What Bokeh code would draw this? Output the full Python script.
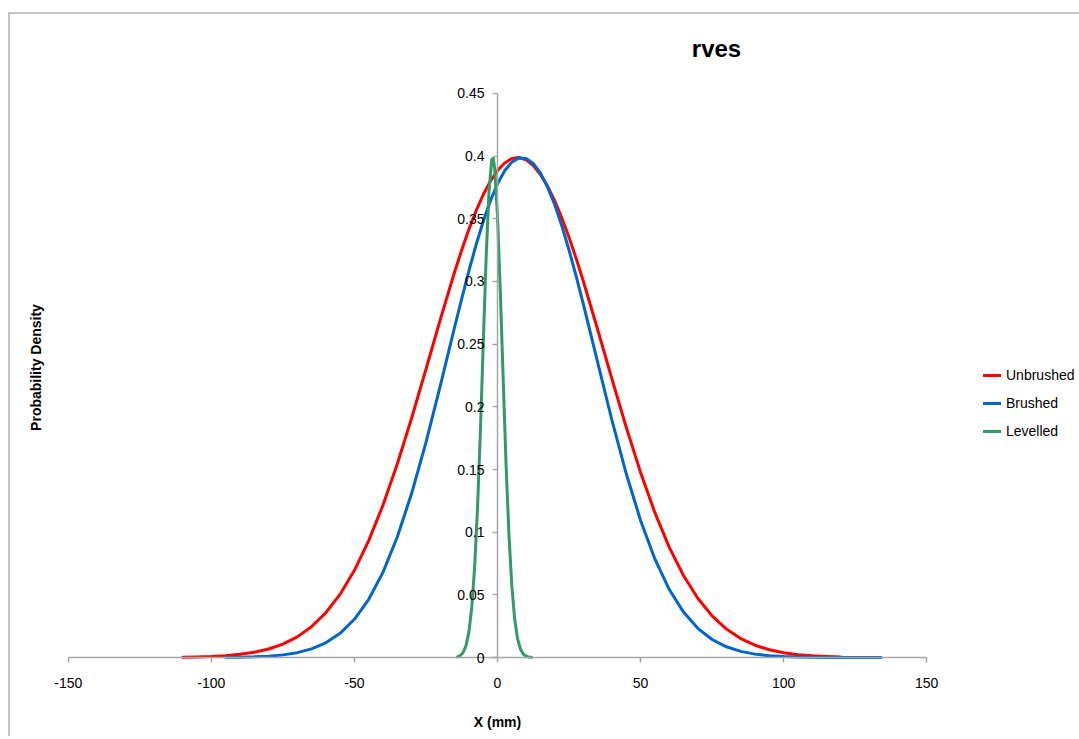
from math import pi
from bokeh.plotting import figure
from bokeh.models import (LinearAxis, FixedTicker, Range1d, Legend, LegendItem,
                          Label, Span)
from bokeh.embed import file_html
from bokeh.resources import INLINE

# ---------------- data ----------------
unbrushed_x = [-110, -105, -100, -95, -90, -85, -80, -75, -70, -65, -60, -55, -50,
               -45, -40, -35, -30, -25, -20, -15, -12.5, -10, -7.5, -5, -2.5, 0,
               2.5, 5, 7.5, 10, 12.5, 15, 17.5, 20, 22.5, 25, 27.5,
               30, 35, 40, 45, 50, 55, 60, 65, 70, 75, 80, 85, 90, 95, 100, 105,
               110, 115, 120]
unbrushed_y = [0.00025, 0.00047, 0.00085, 0.00149, 0.00254, 0.00422, 0.00683,
               0.01075, 0.01647, 0.0246, 0.03573, 0.05053, 0.06958, 0.09326,
               0.1217, 0.1546, 0.1911, 0.23, 0.2696, 0.3076, 0.3251, 0.3416,
               0.3563, 0.3692, 0.38, 0.3885,
               0.3946, 0.3981, 0.3989, 0.397, 0.3925, 0.3854, 0.376, 0.3643,
               0.3506, 0.3352, 0.3183, 0.3002, 0.2617,
               0.2222, 0.1836, 0.1477, 0.1156, 0.08813, 0.06541, 0.04724,
               0.03322, 0.02274, 0.01516, 0.00984, 0.00621, 0.00382, 0.00229,
               0.00133, 0.00076, 0.00042]

brushed_x = [-95, -90, -85, -80, -75, -70, -65, -60, -55, -50, -45, -40, -35, -30,
             -25, -20, -15, -12.5, -10, -7.5, -5, -2.5, 0, 2.5, 5, 7.5, 10, 12.5,
             15, 17.5, 20, 22.5, 25, 27.5, 30, 35, 40, 45, 50,
             55, 60, 65, 70, 75, 80, 85, 90, 95, 100, 105, 110, 115, 120, 125,
             130, 134]
brushed_y = [0.00013, 0.00027, 0.00056, 0.00111, 0.00212, 0.0039, 0.0069,
             0.01175, 0.0193, 0.03051, 0.04647, 0.06816, 0.09631, 0.131, 0.1717,
             0.2167, 0.2635, 0.2864, 0.3085, 0.3291, 0.3479, 0.3643, 0.3779,
             0.3883, 0.3952, 0.3986, 0.3982, 0.3942, 0.3865, 0.3754,
             0.3612, 0.3443, 0.3251, 0.3041, 0.2819, 0.2354, 0.1893, 0.1466,
             0.1094, 0.07864,
             0.05442, 0.03626, 0.02327, 0.0144, 0.00857, 0.00492, 0.00272,
             0.00144, 0.00074, 0.00037, 0.00017, 0.00008, 0.00004, 0.00001,
             0.00001, 0.0]

levelled_x = [-14, -13, -12, -11, -10, -9, -8, -7, -6, -5, -4, -3, -2, -1.5, -1,
              0, 1, 2, 3, 4, 5, 6, 7, 8, 9, 10, 11, 12]
levelled_y = [0.00057, 0.00159, 0.00406, 0.00947, 0.02027, 0.03979, 0.07165,
              0.1184, 0.1793, 0.2491, 0.3173, 0.3708, 0.3974, 0.3982, 0.3905,
              0.352, 0.2911, 0.2207, 0.1534, 0.09786, 0.05725, 0.03069, 0.0151,
              0.00682, 0.00282, 0.00107, 0.00037, 0.00012]

series_names = ["Unbrushed", "Brushed", "Levelled"]
series_colors = ["#FF0000", "#0066CC", "#339966"]

x_ticks = [-150, -100, -50, 0, 50, 100, 150]
x_tick_labels = ["-150", "-100", "-50", "0", "50", "100", "150"]
y_ticks = [0, 0.05, 0.1, 0.15, 0.2, 0.25, 0.3, 0.35, 0.4, 0.45]
y_tick_labels = ["0", "0.05", "0.1", "0.15", "0.2", "0.25", "0.3", "0.35", "0.4", "0.45"]

chart_title = "rves"
x_title = "X (mm)"
y_title = "Probability Density"

# ---------------- layout ----------------
FONT = "Liberation Sans"
W, H = 1079, 736

p = figure(width=W, height=H,
           x_range=Range1d(-170.9, 203.4), y_range=Range1d(-0.0630, 0.5146),
           x_axis_type=None, y_axis_type=None,
           toolbar_location=None, output_backend="svg",
           min_border_left=8, min_border_right=0, min_border_top=12, min_border_bottom=0,
           background_fill_color="white", border_fill_color="white",
           outline_line_color=None)

axis_style = dict(axis_line_color="#a6a6a6", axis_line_width=1.5,
                  major_tick_line_color="#a6a6a6", major_tick_line_width=1.5,
                  major_tick_in=0, major_tick_out=5,
                  minor_tick_line_color=None,
                  major_label_text_font=FONT, major_label_text_font_size="14px",
                  major_label_text_color="#000000")

xaxis = LinearAxis(fixed_location=0, bounds=(x_ticks[0], x_ticks[-1]),
                   ticker=FixedTicker(ticks=x_ticks),
                   major_label_overrides=dict(zip(x_ticks, x_tick_labels)),
                   major_label_standoff=15, **axis_style)
p.add_layout(xaxis, "below")

yaxis = LinearAxis(fixed_location=0, bounds=(y_ticks[0], y_ticks[-1]),
                   ticker=FixedTicker(ticks=y_ticks),
                   major_label_overrides=dict(zip(y_ticks, y_tick_labels)),
                   major_label_standoff=8, **axis_style)
p.add_layout(yaxis, "left")

# chart-area border (left and top edges visible in the reference)
p.add_layout(Span(location=p.x_range.start, dimension="height",
                  line_color="#8c8c8c", line_width=2))
p.add_layout(Span(location=p.y_range.end, dimension="width",
                  line_color="#8c8c8c", line_width=2))

renderers = []
for xs, ys, c in zip([unbrushed_x, brushed_x, levelled_x],
                     [unbrushed_y, brushed_y, levelled_y], series_colors):
    r = p.line(xs, ys, line_color=c, line_width=3, line_join="round", line_cap="round")
    renderers.append(r)

legend = Legend(items=[LegendItem(label=n, renderers=[r]) for n, r in zip(series_names, renderers)],
                location=(975, 295), orientation="vertical",
                glyph_width=18, glyph_height=20, label_height=20, spacing=8,
                padding=0, margin=0, label_standoff=5,
                border_line_color=None, background_fill_alpha=0,
                label_text_font=FONT, label_text_font_size="14px",
                label_text_color="#000000")
p.add_layout(legend)

p.add_layout(Label(x=708, y=688, x_units="screen", y_units="screen", text=chart_title,
                   text_font=FONT, text_font_size="24px", text_font_style="bold",
                   text_align="center", text_baseline="middle", text_color="#000000"))
p.add_layout(Label(x=27, y=369, x_units="screen", y_units="screen", text=y_title,
                   angle=pi / 2, text_font=FONT, text_font_size="14px",
                   text_font_style="bold", text_align="center", text_baseline="middle",
                   text_color="#000000"))
p.add_layout(Label(x=489, y=15, x_units="screen", y_units="screen", text=x_title,
                   text_font=FONT, text_font_size="14px", text_font_style="bold",
                   text_align="center", text_baseline="middle", text_color="#000000"))

open("out.html", "w").write(file_html(p, INLINE))
